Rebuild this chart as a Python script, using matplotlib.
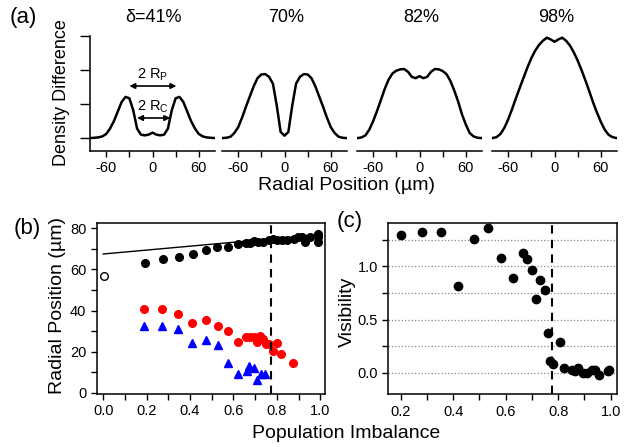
import matplotlib
matplotlib.use('Agg')
import matplotlib.pyplot as plt
import numpy as np
from matplotlib.ticker import MultipleLocator

plt.rcParams['font.family'] = ['Liberation Sans', 'DejaVu Sans']
plt.rcParams['mathtext.default'] = 'regular'
plt.rcParams['axes.unicode_minus'] = False

# (a) density difference profiles, read every 5 um
pos = np.arange(-85, 86, 5)
prof_41 = [0, 0, 0.01, 0.02, 0.05, 0.12, 0.28, 0.5, 0.78, 1.06, 1.21, 1.17, 0.82, 0.28,
           0.1, 0.08, 0.1, 0.16, 0.1, 0.08, 0.1, 0.28, 0.82, 1.17, 1.21, 1.06, 0.78,
           0.5, 0.28, 0.12, 0.05, 0.02, 0.01, 0, 0]
prof_70 = [0, 0, 0.01, 0.04, 0.15, 0.32, 0.6, 0.92, 1.22, 1.52, 1.76, 1.87, 1.88, 1.8,
           1.6, 0.95, 0.18, 0.07, 0.18, 0.95, 1.6, 1.8, 1.88, 1.87, 1.76, 1.52, 1.22,
           0.92, 0.6, 0.32, 0.15, 0.04, 0.01, 0, 0]
prof_82 = [0, 0, 0.02, 0.08, 0.25, 0.5, 0.8, 1.12, 1.45, 1.72, 1.9, 1.98, 2.02, 2.03,
           1.95, 1.8, 1.76, 1.82, 1.76, 1.8, 1.95, 2.03, 2.02, 1.97, 1.88, 1.68, 1.4,
           1.08, 0.7, 0.4, 0.15, 0.05, 0.01, 0, 0]
prof_98 = [0, 0, 0.03, 0.12, 0.3, 0.55, 0.85, 1.17, 1.48, 1.78, 2.08, 2.35, 2.57, 2.74,
           2.86, 2.95, 2.9, 2.83, 2.9, 2.95, 2.86, 2.72, 2.52, 2.28, 2.0, 1.7, 1.38,
           1.05, 0.75, 0.48, 0.25, 0.1, 0.03, 0, 0]
profiles = [prof_41, prof_70, prof_82, prof_98]
titles = ['δ=41%', '70%', '82%', '98%']

# (b) radial positions vs population imbalance
outer_x = [0.192, 0.274, 0.349, 0.412, 0.472, 0.526, 0.577, 0.623, 0.658, 0.677, 0.695,
           0.715, 0.738, 0.762, 0.782, 0.8, 0.823, 0.846, 0.877, 0.897, 0.915, 0.931,
           0.954, 0.989, 0.992, 0.992]
outer_y = [63.3, 65.3, 66.2, 67.4, 69.5, 70.8, 70.8, 72.2, 72.7, 73.0, 73.7, 73.5, 73.5,
           74.2, 75.0, 74.3, 74.2, 74.3, 75.0, 75.9, 75.8, 73.5, 75.6, 77.1, 73.5, 75.7]
open_x = [0.003]
open_y = [56.9]
fit_x = [0.0, 1.0]
fit_y = [67.5, 77.0]
rp_x = [0.189, 0.272, 0.346, 0.411, 0.472, 0.528, 0.577, 0.62, 0.658, 0.677, 0.695,
        0.708, 0.723, 0.738, 0.749, 0.766, 0.782, 0.8, 0.82, 0.874]
rp_y = [40.9, 40.9, 38.3, 33.9, 35.5, 32.6, 29.9, 24.6, 27.1, 27.1, 27.1, 24.6, 27.5,
        26.2, 23.9, 23.9, 20.2, 24.2, 18.9, 14.5]
rc_x = [0.189, 0.272, 0.346, 0.411, 0.472, 0.528, 0.577, 0.62, 0.662, 0.674, 0.695,
        0.708, 0.726, 0.746]
rc_y = [32.6, 32.6, 31.0, 24.2, 25.5, 23.1, 14.5, 9.2, 10.5, 13.2, 12.1, 6.5, 9.2, 9.2]

# (c) visibility
vis_x = [0.2, 0.28, 0.354, 0.417, 0.479, 0.534, 0.582, 0.627, 0.665, 0.68, 0.7, 0.714,
         0.731, 0.749, 0.762, 0.769, 0.781, 0.807, 0.822, 0.851, 0.864, 0.877, 0.893,
         0.909, 0.928, 0.94, 0.957, 0.991, 0.995]
vis_y = [1.29, 1.325, 1.325, 0.82, 1.256, 1.356, 1.08, 0.894, 1.13, 1.07, 0.97, 0.69,
         0.875, 0.775, 0.375, 0.109, 0.087, 0.287, 0.05, 0.025, 0.015, 0.047, 0.0, 0.0,
         0.025, 0.03, -0.016, 0.015, 0.03]
crit = 0.775

W, H = 635, 447
fig = plt.figure(figsize=(W / 100, H / 100), dpi=100)

def px(x0, y0, x1, y1):
    return [x0 / W, 1 - y1 / H, (x1 - x0) / W, (y1 - y0) / H]

# panel (a)
lefts = [90, 222, 357, 492]
for i, prof in enumerate(profiles):
    ax = fig.add_axes(px(lefts[i], 36, lefts[i] + 125, 151))
    ax.plot(pos, prof, color='black', lw=1.8)
    ax.set_xlim(-81, 81)
    ax.set_ylim(-0.38, 3.0)
    ax.spines['top'].set_visible(False)
    ax.spines['right'].set_visible(False)
    ax.set_xticks([-60, 0, 60])
    ax.xaxis.set_minor_locator(MultipleLocator(30))
    ax.tick_params(axis='x', which='both', direction='out', length=4, width=1, labelsize=10.5)
    for sp in ax.spines.values():
        sp.set_linewidth(1.1)
    if i == 0:
        ax.set_yticks([0, 1, 2, 3])
        ax.set_yticklabels([])
        ax.tick_params(axis='y', direction='out', length=7, width=1)
        ax.annotate('', xy=(-30, 1.53), xytext=(31, 1.53),
                    arrowprops=dict(arrowstyle='<|-|>', lw=1.2, color='black',
                                    mutation_scale=8, shrinkA=0, shrinkB=0))
        ax.text(0, 1.85, '2 R$_P$', ha='center', va='center', fontsize=10.5)
        ax.annotate('', xy=(-20, 0.59), xytext=(23, 0.59),
                    arrowprops=dict(arrowstyle='<|-|>', lw=1.2, color='black',
                                    mutation_scale=8, shrinkA=0, shrinkB=0))
        ax.text(0, 0.92, '2 R$_C$', ha='center', va='center', fontsize=10.5)
    else:
        ax.spines['left'].set_visible(False)
        ax.set_yticks([])
    fig.text((lefts[i] + 64) / W, 1 - 18 / H, titles[i], ha='center', va='center', fontsize=13)

fig.text(23 / W, 1 - 18 / H, '(a)', ha='center', va='center', fontsize=16)
fig.text(62 / W, 1 - 93 / H, 'Density Difference', rotation=90, ha='center', va='center', fontsize=13)
fig.text(347 / W, 1 - 185 / H, 'Radial Position (µm)', ha='center', va='center', fontsize=14)

# panel (b)
axb = fig.add_axes(px(96.7, 222.7, 325, 394))
axb.plot(fit_x, fit_y, color='black', lw=1)
axb.plot(outer_x, outer_y, 'o', color='black', ms=5.5)
axb.plot(open_x, open_y, 'o', mfc='white', mec='black', ms=5.5, mew=1)
axb.plot(rp_x, rp_y, 'o', color='#ff0000', ms=5.5)
axb.plot(rc_x, rc_y, '^', color='#0000ff', ms=5.5)
axb.axvline(crit, color='black', ls=(0, (4, 3)), lw=1.5)
axb.set_xlim(-0.03, 1.022)
axb.set_ylim(-0.5, 82.7)
axb.set_xticks(np.arange(0, 1.01, 0.2))
axb.set_xticklabels(['0.0', '0.2', '0.4', '0.6', '0.8', '1.0'])
axb.xaxis.set_minor_locator(MultipleLocator(0.1))
axb.set_yticks([0, 20, 40, 60, 80])
axb.yaxis.set_minor_locator(MultipleLocator(10))
axb.tick_params(which='both', direction='out', length=4, width=1, labelsize=10.5)
for sp in axb.spines.values():
    sp.set_linewidth(1.1)
fig.text(27 / W, 1 - 228 / H, '(b)', ha='center', va='center', fontsize=16)
fig.text(58 / W, 1 - 305 / H, 'Radial Position (µm)', rotation=90, ha='center', va='center', fontsize=14)

# panel (c)
axc = fig.add_axes(px(388.3, 222.7, 617.3, 394.3))
for g in [0, 0.25, 0.5, 0.75, 1.0, 1.25]:
    axc.axhline(g, color='#888888', ls=':', lw=0.9, zorder=0)
axc.plot(vis_x, vis_y, 'o', color='black', ms=6)
axc.axvline(crit, color='black', ls=(0, (4, 3)), lw=1.5)
axc.set_xlim(0.153, 1.025)
axc.set_ylim(-0.2, 1.41)
axc.set_xticks([0.2, 0.4, 0.6, 0.8, 1.0])
axc.xaxis.set_minor_locator(MultipleLocator(0.1))
axc.set_yticks([0, 0.5, 1.0])
axc.set_yticklabels(['0.0', '0.5', '1.0'])
axc.yaxis.set_minor_locator(MultipleLocator(0.25))
axc.tick_params(which='both', direction='out', length=4, width=1, labelsize=10.5)
for sp in axc.spines.values():
    sp.set_linewidth(1.1)
fig.text(350 / W, 1 - 222 / H, '(c)', ha='center', va='center', fontsize=16)
fig.text(347 / W, 1 - 312 / H, 'Visibility', rotation=90, ha='center', va='center', fontsize=14)

fig.text(346 / W, 1 - 433 / H, 'Population Imbalance', ha='center', va='center', fontsize=14)

fig.savefig('out.png', dpi=100)
